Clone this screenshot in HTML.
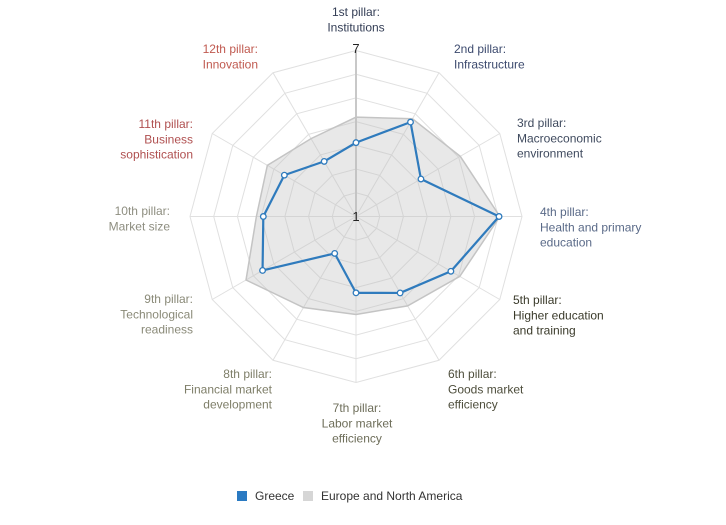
<!DOCTYPE html>
<html><head><meta charset="utf-8"><style>
body{margin:0;background:#fff;}
svg{display:block;font-family:"Liberation Sans",sans-serif;}
</style></head><body>
<svg id="chart" width="726" height="525">
<g id="grid"></g>
<g id="series"></g>
<g id="labels"></g>
<text x="356" y="53" font-size="13" fill="#222" text-anchor="middle">7</text>
<text x="356" y="221" font-size="13" fill="#222" text-anchor="middle">1</text>
<g>
<g><rect x="237" y="491" width="10" height="10" fill="#2a7ac2"/><text x="255" y="500" font-size="12" fill="#333">Greece</text></g>
<g><rect x="303" y="491" width="10" height="10" fill="#d6d6d6"/><text x="321" y="500" font-size="12" fill="#333">Europe and North America</text></g>
</g>
</svg>
<script>
const categories=["1st pillar: Institutions","2nd pillar: Infrastructure","3rd pillar: Macroeconomic environment","4th pillar: Health and primary education","5th pillar: Higher education and training","6th pillar: Goods market efficiency","7th pillar: Labor market efficiency","8th pillar: Financial market development","9th pillar: Technological readiness","10th pillar: Market size","11th pillar: Business sophistication","12th pillar: Innovation"];
const greece=[3.67,4.94,3.71,6.17,4.96,4.19,3.76,2.54,4.9,4.35,3.99,3.3];
const europe=[4.59,5.08,5.35,6.2,5.33,4.73,4.54,4.8,5.59,4.6,4.7,4.25];
const axisMin=1, axisMax=7;
const CX=356,CY=216.5,R=166,NS="http://www.w3.org/2000/svg";
function ang(i){return (i/categories.length)*2*Math.PI-Math.PI/2;}
function rad(v){return (v-axisMin)/(axisMax-axisMin)*R;}
function pt(i,v){const a=ang(i),r=rad(v);return [CX+r*Math.cos(a),CY+r*Math.sin(a)];}
function mk(tag,attrs,parent){const e=document.createElementNS(NS,tag);for(const k in attrs)e.setAttribute(k,attrs[k]);parent.appendChild(e);return e;}
const grid=document.getElementById('grid');
for(let k=1;k<=7;k++){
 const r=R*k/7;const pts=categories.map((c,i)=>{const a=ang(i);return (CX+r*Math.cos(a))+','+(CY+r*Math.sin(a));}).join(' ');
 const p=mk('polygon',{points:pts,fill:'none',stroke:'#e0e0e0','stroke-width':1},grid);
 
 
}
categories.forEach((c,i)=>{const a=ang(i);
 const l=mk('line',{x1:CX,y1:CY,x2:CX+R*Math.cos(a),y2:CY+R*Math.sin(a),stroke:i==0?'#c8c8c8':'#e0e0e0','stroke-width':i==0?2:1},grid);
 
 
});
const sg=document.getElementById('series');
const ep=mk('polygon',{points:europe.map((v,i)=>pt(i,v).join(',')).join(' '),fill:'rgba(190,190,190,0.35)',stroke:'#c4c4c4','stroke-width':1.5},sg);


const gp=mk('polygon',{points:greece.map((v,i)=>pt(i,v).join(',')).join(' '),fill:'none',stroke:'#2f7bbd','stroke-width':2.2,'stroke-linejoin':'round'},sg);


greece.forEach((v,i)=>{const [x,y]=pt(i,v);
 const c=mk('circle',{cx:x,cy:y,r:2.8,fill:'#fff',stroke:'#2f7bbd','stroke-width':1.3},sg);
 
 
});
const lab=[
 [356,12,'middle','#333d55',["1st pillar:","Institutions"]],
 [454,49,'start','#3c4a6e',["2nd pillar:","Infrastructure"]],
 [517,123,'start','#3f4a5e',["3rd pillar:","Macroeconomic","environment"]],
 [540,212,'start','#5a6a88',["4th pillar:","Health and primary","education"]],
 [513,300,'start','#3a3a2a',["5th pillar:","Higher education","and training"]],
 [448,374,'start','#4e4e3c',["6th pillar:","Goods market","efficiency"]],
 [357,408,'middle','#6e6e5a',["7th pillar:","Labor market","efficiency"]],
 [272,374,'end','#7e7e68',["8th pillar:","Financial market","development"]],
 [193,299,'end','#8a8a78',["9th pillar:","Technological","readiness"]],
 [170,211,'end','#8e8e80',["10th pillar:","Market size"]],
 [193,124,'end','#b05050',["11th pillar:","Business","sophistication"]],
 [258,49,'end','#c05a50',["12th pillar:","Innovation"]]];
const lg=document.getElementById('labels');
lab.forEach(([x,y,anc,col,lines])=>{
 const t=mk('text',{x:x,y:y+4,'font-size':12,fill:col,'text-anchor':anc},lg);
 
 
 lines.forEach((s,j)=>{const ts=mk('tspan',{x:x,dy:j?15.3:0},t);ts.textContent=s;});
});
</script>
</body></html>
